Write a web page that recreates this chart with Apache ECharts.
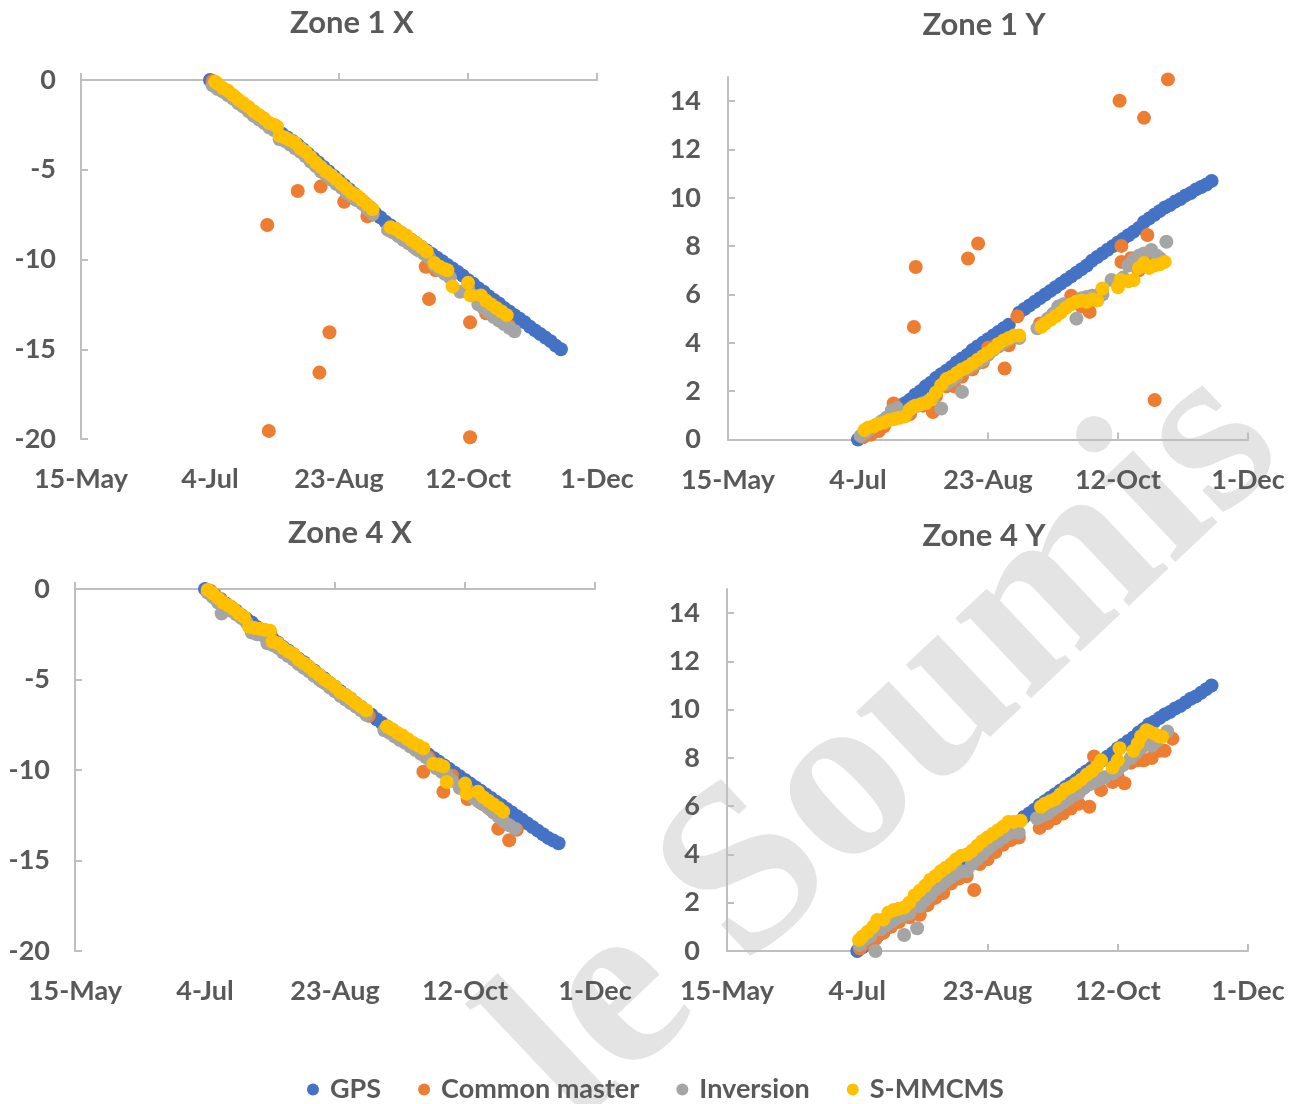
<!DOCTYPE html>
<html>
<head>
<meta charset="utf-8">
<title>Zone displacement</title>
<script src="https://cdn.jsdelivr.net/npm/echarts@6/dist/echarts.min.js"></script>
<style>
  html, body { margin: 0; padding: 0; background: #fff; }
  #chart { width: 1297px; height: 1104px; }
</style>
</head>
<body>
<div id="chart"></div>
<script>
// x is days counted from 15-May
const dateTicks = [0, 50, 100, 150, 200];
const dateLabels = ['15-May', '4-Jul', '23-Aug', '12-Oct', '1-Dec'];
const xTicksY = [-20, -15, -10, -5, 0];
const yTicksY = [0, 2, 4, 6, 8, 10, 12, 14];
const seriesNames = ['GPS', 'Common master', 'Inversion', 'S-MMCMS'];
const titles = ['Zone 1 X', 'Zone 1 Y', 'Zone 4 X', 'Zone 4 Y'];

// GPS sampled every 2 days
const gpsDays = [50,52,54,56,58,60,62,64,66,68,70,72,74,76,78,80,82,84,86,88,90,92,94,96,98,100,
  102,104,106,108,110,112,114,116,118,120,122,124,126,128,130,132,134,136,138,140,142,144,146,148,
  150,152,154,156,158,160,162,164,166,168,170,172,174,176,178,180,182,184,186];

const z1xGps = [0,-0.2,-0.4,-0.6,-0.85,-1.05,-1.3,-1.5,-1.7,-1.95,-2.15,-2.35,-2.55,-2.8,-3.0,-3.2,
  -3.4,-3.6,-3.85,-4.1,-4.35,-4.6,-4.85,-5.1,-5.35,-5.6,-5.85,-6.1,-6.35,-6.6,-6.85,-7.1,-7.4,-7.65,
  -7.9,-8.1,-8.3,-8.5,-8.7,-8.9,-9.1,-9.3,-9.5,-9.7,-9.9,-10.1,-10.3,-10.5,-10.7,-10.9,-11.15,-11.35,
  -11.6,-11.8,-12.05,-12.25,-12.45,-12.7,-12.9,-13.1,-13.3,-13.5,-13.75,-13.95,-14.15,-14.35,-14.55,-14.8,-15.0];
const z1yGps = [0,0.1,0.3,0.45,0.6,0.8,0.95,1.15,1.3,1.5,1.65,1.85,2.0,2.2,2.35,2.55,2.7,2.85,3.0,3.2,
  3.35,3.5,3.7,3.85,4.0,4.15,4.3,4.45,4.6,4.75,null,5.25,5.4,5.55,5.7,5.85,6.0,6.15,6.3,6.45,6.6,6.75,
  6.9,7.05,7.2,7.4,7.55,7.7,7.85,8.0,8.15,8.3,8.45,8.6,8.75,9.0,9.15,9.3,9.45,9.6,9.7,9.85,9.95,10.1,
  10.2,10.35,10.45,10.55,10.7];
const z4xGps = [0,-0.15,-0.35,-0.55,-0.8,-1.0,-1.2,-1.45,-1.65,-1.85,-2.1,-2.3,-2.5,-2.75,-2.95,-3.2,
  -3.4,-3.6,-3.85,-4.05,-4.3,-4.5,-4.75,-4.95,-5.2,-5.4,-5.65,-5.85,-6.05,-6.3,-6.5,-6.75,-6.95,-7.2,
  -7.4,-7.6,-7.8,-8.0,-8.2,-8.4,-8.6,-8.8,-8.95,-9.15,-9.35,-9.55,-9.75,-9.95,-10.15,-10.35,-10.55,
  -10.75,-10.95,-11.15,-11.35,-11.55,-11.75,-11.95,-12.15,-12.35,-12.55,-12.75,-12.95,-13.15,-13.35,
  -13.55,-13.75,-13.9,-14.05];
const z4yGps = [0,0.15,0.3,0.5,0.65,0.85,1.0,1.2,1.35,1.5,1.7,1.85,2.05,2.2,2.4,2.55,2.75,2.9,3.1,3.25,
  3.45,3.6,3.8,3.95,4.15,4.3,4.5,4.65,4.85,5.0,5.2,5.35,5.55,5.7,5.85,6.05,6.2,6.35,6.5,6.65,6.8,6.95,
  7.1,7.3,7.45,7.6,7.75,7.9,8.05,8.2,8.4,8.55,8.7,8.85,9.05,9.2,9.4,9.5,9.65,9.8,9.9,10.05,10.15,10.3,
  10.45,10.55,10.7,10.85,11.0];

// [day, value]
const z1xCommon = [[51,-0.05],[55,-0.5],[60,-1.0],[65,-1.6],[70,-2.1],[72.2,-8.08],[72.8,-19.55],
  [75,-2.7],[80,-3.4],[84,-6.18],[86,-4.0],[92.4,-16.3],[92.9,-5.94],[96.3,-14.05],[98,-5.6],
  [102,-6.78],[106,-6.6],[111,-7.6],[113,-7.5],[120,-8.4],[125,-8.9],[130,-9.4],[133.6,-10.4],
  [134.9,-12.2],[137.5,-10.6],[150.8,-13.5],[150.8,-19.9],[157,-13.0],[162,-13.3],[166,-13.7]];
const z1xInversion = [[51,-0.3],[53,-0.5],[55,-0.65],[57,-0.85],[59,-1.05],[61,-1.3],[63,-1.5],
  [65,-1.75],[67,-2.0],[69,-2.2],[71,-2.4],[73,-2.65],[75,-2.8],[77,-3.3],[79,-3.4],[81,-3.6],
  [83,-3.8],[85,-4.0],[87,-4.25],[89,-4.55],[91,-4.8],[93,-5.1],[95,-5.3],[97,-5.55],[99,-5.8],
  [101,-6.0],[103,-6.3],[105,-6.5],[107,-6.7],[109,-6.9],[111,-7.2],[113,-7.45],[119,-8.35],
  [121,-8.5],[123,-8.7],[125,-8.9],[127,-9.1],[129,-9.3],[131,-9.5],[133,-9.7],[135,-9.9],
  [137,-10.35],[139,-10.6],[141,-10.8],[143,-11.0],[147,-11.8],[150,-11.6],[152,-12.0],[154,-12.5],
  [156,-12.7],[158,-12.9],[160,-13.2],[162,-13.4],[164,-13.6],[166,-13.8],[168,-14.0]];
const z1xSmmcms = [[52,-0.1],[53,-0.2],[55,-0.45],[57,-0.6],[59,-0.85],[61,-1.1],[63,-1.3],[65,-1.5],
  [67,-1.75],[69,-1.95],[71,-2.15],[73,-2.4],[75,-2.5],[76,-2.6],[77,-3.1],[79,-3.2],[81,-3.35],
  [83,-3.5],[85,-3.8],[87,-4.0],[89,-4.3],[91,-4.6],[93,-4.85],[95,-5.1],[97,-5.3],[99,-5.55],
  [101,-5.8],[103,-6.05],[105,-6.3],[107,-6.45],[109,-6.7],[111,-6.95],[113,-7.2],[120,-8.2],
  [122,-8.3],[124,-8.5],[126,-8.65],[128,-8.9],[130,-9.1],[132,-9.3],[134,-9.55],[137,-10.2],
  [139,-10.4],[141,-10.55],[142,-10.6],[144,-11.5],[150,-11.3],[151,-12.0],[155,-12.0],[157,-12.3],
  [159,-12.5],[161,-12.7],[163,-12.9],[165,-13.1]];

const z1yCommon = [[52,0.1],[55,0.2],[58,0.35],[60,0.55],[63.7,1.49],[66,1.0],[70,1.05],[71.5,4.66],
  [72.2,7.14],[75,1.4],[78.8,1.14],[80,1.8],[84,2.2],[87,2.2],[90,2.6],[92.3,7.49],[94,2.9],
  [96.2,8.11],[98,3.2],[100,3.8],[103,3.9],[106.4,2.94],[108,3.9],[111.3,5.1],[120,4.8],[124,5.0],
  [128,5.4],[132,5.95],[136,5.5],[139.1,5.28],[143,6.0],[150.6,14.02],[151.3,8.01],[151.3,7.35],
  [155,7.5],[158,7.0],[160,13.31],[161.3,8.46],[162,7.7],[164.1,1.63],[166,7.5],[169.2,14.9]];
const z1yInversion = [[51,0.15],[53,0.3],[55,0.45],[57,0.6],[59,0.75],[61,0.9],[63,1.2],[65,1.3],
  [67,1.0],[69,1.1],[71,1.35],[73,1.4],[75,1.5],[77,1.6],[79,1.75],[82,1.28],[84,2.3],[86,2.45],
  [88,2.6],[90,1.97],[92,2.9],[94,3.05],[96,3.15],[98,3.3],[100,3.5],[102,3.7],[104,3.85],[106,4.0],
  [108,4.15],[110,4.25],[112,4.2],[119,4.6],[121,4.75],[123,5.0],[125,5.2],[127,5.5],[129,5.6],
  [131,5.55],[134,5.0],[136,5.85],[138,5.9],[140,5.95],[142,5.8],[144,6.0],[147.5,6.6],[150,6.5],
  [152,6.7],[154,7.2],[156,7.45],[158,7.6],[160,7.7],[162.8,7.84],[165,7.6],[167,7.4],[168.6,8.18]];
const z1ySmmcms = [[52.5,0.39],[54,0.5],[56,0.55],[58,0.65],[60,0.7],[62,0.8],[64,0.85],[66,0.9],
  [68,0.95],[70,1.25],[72,1.4],[74,1.45],[76,1.5],[78,1.65],[80,1.95],[82,2.25],[84,2.5],[86,2.6],
  [88,2.75],[90,2.9],[92,3.0],[94,3.15],[96,3.3],[98,3.45],[100,3.6],[102,3.75],[104,3.95],[106,4.1],
  [108,4.2],[110,4.3],[112,4.3],[120.5,4.66],[122,4.8],[124,4.95],[126,5.1],[128,5.25],[130,5.45],
  [132,5.6],[134,5.7],[136,5.75],[138,5.7],[140,5.8],[142,5.75],[144,6.25],[150,6.3],[151,6.6],
  [154,6.55],[156,6.6],[158,7.1],[160,7.3],[162,7.1],[164,7.2],[166,7.25],[168,7.35]];

const z4xCommon = [[52,-0.1],[56,-0.6],[60,-1.0],[65,-1.6],[70,-2.2],[75,-2.5],[80,-3.3],[85,-3.8],
  [90,-4.4],[95,-5.1],[100,-5.6],[105,-6.1],[110,-6.6],[113,-7.0],[121,-7.9],[126,-8.3],[131,-8.8],
  [134,-10.1],[136,-9.3],[141.7,-11.2],[145,-10.3],[151,-11.6],[156,-11.8],[160,-12.2],[162.8,-13.24],
  [167,-13.88],[169.9,-13.3]];
const z4xInversion = [[51,-0.2],[53,-0.45],[55,-0.75],[56.4,-1.35],[58,-0.95],[60,-1.2],[62,-1.4],
  [64,-1.6],[66,-1.85],[68,-2.4],[70,-2.5],[72,-2.55],[74,-3.0],[76,-3.1],[78,-3.25],[80,-3.5],
  [82,-3.7],[84,-3.9],[86,-4.15],[88,-4.35],[90,-4.55],[92,-4.8],[94,-5.0],[96,-5.2],[98,-5.45],
  [100,-5.65],[102,-5.9],[104,-6.1],[106,-6.3],[108,-6.5],[110,-6.7],[112,-6.95],[119,-7.8],
  [121,-7.95],[123,-8.15],[125,-8.35],[127,-8.5],[129,-8.7],[131,-8.9],[133,-9.1],[135,-9.3],
  [137,-9.6],[139,-9.9],[141,-10.1],[143,-10.3],[145,-10.6],[148,-11.0],[151,-11.1],[153,-11.5],
  [155,-11.7],[157,-11.9],[159,-12.1],[161,-12.35],[163,-12.6],[165,-12.85],[167,-13.05],[169.2,-13.24]];
const z4xSmmcms = [[51,-0.05],[53,-0.25],[55,-0.5],[57,-0.75],[59,-0.9],[61,-1.1],[63,-1.35],
  [65,-1.55],[67,-2.1],[69,-2.15],[71,-2.2],[73,-2.25],[75,-2.3],[76,-2.9],[78,-3.0],[80,-3.25],
  [82,-3.45],[84,-3.6],[86,-3.9],[88,-4.1],[90,-4.3],[92,-4.55],[94,-4.75],[96,-5.0],[98,-5.2],
  [100,-5.4],[102,-5.7],[104,-5.85],[106,-6.05],[108,-6.3],[110,-6.5],[112,-6.7],[120,-7.6],
  [122,-7.75],[124,-7.95],[126,-8.1],[128,-8.3],[130,-8.5],[132,-8.65],[134,-8.8],[137.8,-9.65],
  [140,-9.7],[141.7,-9.8],[143,-10.66],[150,-10.75],[150.6,-11.3],[155,-11.2],[157,-11.5],[159,-11.7],
  [161,-11.9],[163,-12.1],[164.7,-12.3]];

const z4yCommon = [[51,0.1],[53,0.3],[55,0.35],[57,0.5],[60,0.75],[63,1.0],[66,1.2],[70,1.4],[74,1.5],
  [77,1.9],[80,2.2],[83,2.4],[86,2.8],[89,3.0],[92,3.1],[94.9,2.53],[97,3.6],[100,3.8],[103,4.1],
  [106,4.4],[109,4.6],[112,4.7],[120,5.1],[123,5.3],[126,5.5],[129,5.7],[132,5.9],[135,6.1],
  [139.1,5.98],[140.9,8.06],[143.6,6.67],[148,7.0],[150,7.2],[152.6,6.95],[155,7.8],[157.7,7.9],
  [160,7.9],[163,8.0],[166,8.3],[168,8.3],[171,8.8]];
const z4yInversion = [[51,0.25],[53,0.5],[55,0.6],[57,0.0],[59,0.9],[61,1.05],[63,1.2],[65,1.35],
  [67,1.45],[68,0.66],[70,1.55],[73,0.94],[74,1.85],[76,2.1],[78,2.3],[80,2.55],[82,2.7],[84,2.9],
  [86,3.05],[88,3.2],[90,3.3],[92,3.3],[94,3.6],[96,3.8],[98,4.0],[100,4.2],[102,4.4],[104,4.55],
  [106,4.7],[108,4.85],[110,4.95],[112,4.9],[119,5.5],[121,5.6],[123,5.7],[125,5.85],[127,6.0],
  [129,6.15],[131,6.3],[133,6.45],[135,6.55],[137,6.75],[139,6.9],[141,7.0],[143,7.1],[145,7.2],
  [148,7.35],[150,7.5],[152,7.7],[155,8.0],[157,8.2],[159,8.4],[161,8.6],[163,8.5],[165,8.7],
  [167,8.9],[169,9.1]];
const z4ySmmcms = [[50.7,0.46],[52,0.6],[54,0.8],[56,1.0],[57.7,1.28],[60,1.3],[62,1.6],[64,1.7],
  [66,1.75],[68,1.8],[70,2.0],[72,2.3],[74,2.5],[76,2.7],[78,2.95],[80,3.1],[82,3.3],[84,3.45],
  [86,3.6],[88,3.8],[90,3.95],[92,4.0],[94,4.15],[96,4.35],[98,4.55],[100,4.7],[102,4.85],[104,5.0],
  [106,5.15],[108,5.35],[110,5.35],[112.8,5.4],[120.5,5.98],[122,6.1],[124,6.2],[126,6.3],[128,6.5],
  [130,6.7],[132,6.8],[134,6.95],[136,7.1],[138,7.3],[140,7.45],[142,7.65],[143.6,7.9],[148,7.6],
  [150,7.9],[150.7,8.4],[156,8.3],[157.7,8.6],[159,8.9],[161,9.15],[162,9.1],[164,9.0],[166,8.9],
  [167,8.88]];

const colors = ['#4472C4', '#ED7D31', '#A5A5A5', '#FFC000'];
const font = 'Lato, "Noto Sans", sans-serif';
const textColor = '#595959';
const axisColor = '#BFBFBF';

const panels = [
  { gps: z1xGps, common: z1xCommon, inv: z1xInversion, smm: z1xSmmcms, isX: true },
  { gps: z1yGps, common: z1yCommon, inv: z1yInversion, smm: z1ySmmcms, isX: false },
  { gps: z4xGps, common: z4xCommon, inv: z4xInversion, smm: z4xSmmcms, isX: true },
  { gps: z4yGps, common: z4yCommon, inv: z4yInversion, smm: z4ySmmcms, isX: false }
];

const grids = [
  { left: 81, top: 80, width: 516, height: 359 },
  { left: 728, top: 77, width: 520, height: 362.5 },
  { left: 75, top: 589, width: 520, height: 362 },
  { left: 727, top: 589, width: 521, height: 362 }
];
const titlePos = [[347, 2], [979, 4], [345, 512], [979, 515]];

const chart = echarts.init(document.getElementById('chart'));

const axisLabelStyle = { color: textColor, fontFamily: font, fontWeight: 'bold', fontSize: 27 };

const option = {
  animation: false,
  color: colors,
  textStyle: { fontFamily: font },
  graphic: [{
    type: 'text',
    x: 889, y: 747,
    rotation: 0.757,
    z: 0,
    silent: true,
    style: {
      text: 'le Soumis',
      fontFamily: '"Liberation Serif", serif',
      fontWeight: 'bold',
      fontSize: 240,
      fill: '#E4E4E4',
      align: 'center',
      verticalAlign: 'middle'
    }
  }],
  title: titles.map((t, i) => ({
    text: t,
    left: titlePos[i][0],
    top: titlePos[i][1],
    textAlign: 'center',
    textStyle: { color: textColor, fontFamily: font, fontWeight: 'bold', fontSize: 31 }
  })),
  legend: {
    data: seriesNames,
    left: 307,
    top: 1076,
    padding: 0,
    icon: 'circle',
    itemWidth: 12,
    itemHeight: 12,
    itemGap: 37,
    textStyle: { color: textColor, fontFamily: font, fontWeight: 'bold', fontSize: 27, padding: [0, 0, 0, 6] }
  },
  grid: grids.map(g => Object.assign({ outerBoundsMode: 'none', containLabel: false }, g)),
  xAxis: panels.map((p, i) => ({
    type: 'value',
    gridIndex: i,
    min: 0, max: 200, interval: 50,
    splitLine: { show: false },
    axisLine: { lineStyle: { color: axisColor, width: 2 } },
    axisTick: { inside: true, length: 7, lineStyle: { color: axisColor, width: 2 } },
    axisLabel: Object.assign({
      margin: 27,
      formatter: v => dateLabels[dateTicks.indexOf(v)] || ''
    }, axisLabelStyle)
  })),
  yAxis: panels.map((p, i) => p.isX ? ({
    type: 'value',
    gridIndex: i,
    min: -20, max: 0, interval: 5,
    splitLine: { show: false },
    axisLine: { onZero: false, lineStyle: { color: axisColor, width: 2 } },
    axisTick: { show: true, inside: true, length: 7, lineStyle: { color: axisColor, width: 2 } },
    axisLabel: Object.assign({ margin: 25, customValues: xTicksY }, axisLabelStyle)
  }) : ({
    type: 'value',
    gridIndex: i,
    min: 0, max: 15, interval: 1,
    splitLine: { show: false },
    axisLine: { onZero: false, lineStyle: { color: axisColor, width: 2 } },
    axisTick: { show: true, inside: true, length: 7, customValues: yTicksY, lineStyle: { color: axisColor, width: 2 } },
    axisLabel: Object.assign({ margin: 27, customValues: yTicksY }, axisLabelStyle)
  })),
  series: []
};

panels.forEach((p, i) => {
  const gpsData = gpsDays.map((d, k) => [d, p.gps[k]]).filter(pt => pt[1] !== null);
  const sets = [gpsData, p.common, p.inv, p.smm];
  sets.forEach((data, s) => {
    option.series.push({
      name: seriesNames[s],
      type: 'scatter',
      xAxisIndex: i,
      yAxisIndex: i,
      data: data,
      symbolSize: 14,
      itemStyle: { color: colors[s], opacity: 1 },
      emphasis: { disabled: true }
    });
  });
});

chart.setOption(option);
</script>
</body>
</html>
